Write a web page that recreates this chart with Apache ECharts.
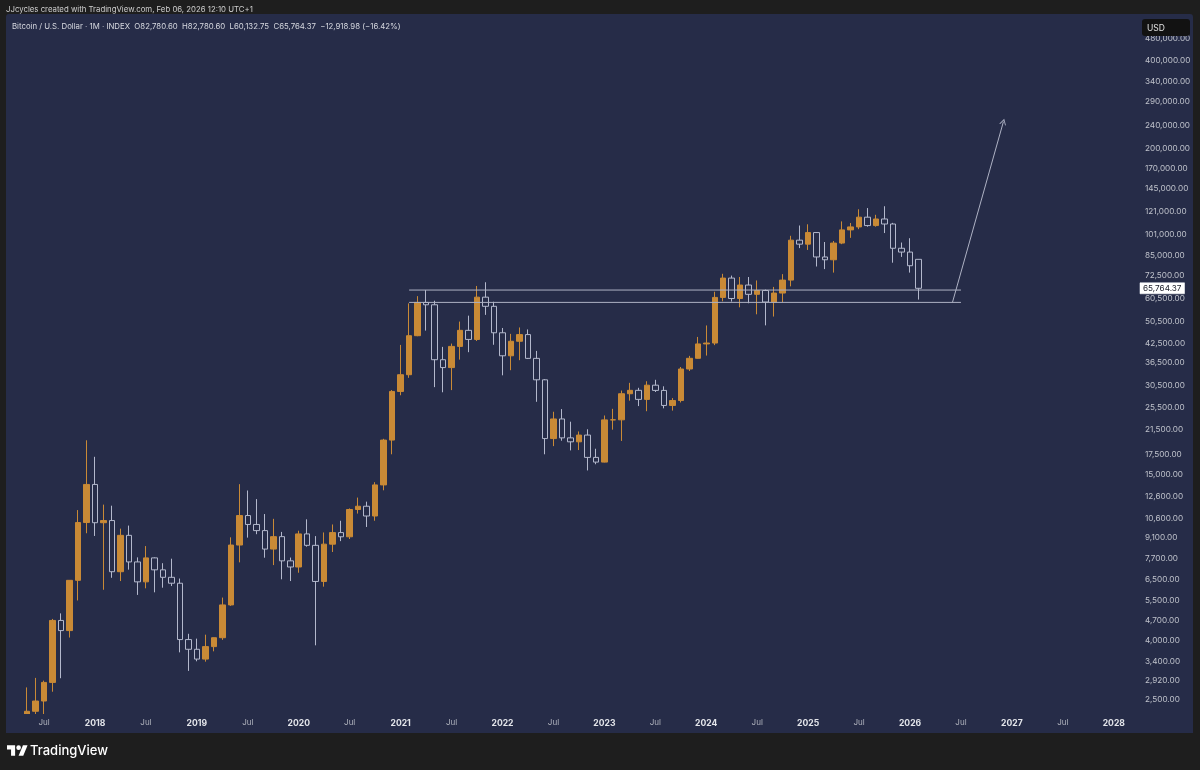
<!DOCTYPE html>
<html><head><meta charset="utf-8">
<script src="https://cdn.jsdelivr.net/npm/echarts@6/dist/echarts.min.js"></script>
<style>html,body{margin:0;padding:0;background:#1e1e1e}#c{width:1200px;height:770px}</style>
</head><body><div id="c"></div><script>
// ---- DATA ----
const firstMonth = '2017-03';     // first category on the axis
const lastMonth  = '2028-03';     // last category on the axis
const firstCandle = '2017-05';    // first month with a candle
const opens = [
  1348, 2286, 2480, 2875, 4703, 4339, 6468, 10234,
  13850, 10221, 10397, 6926, 9245, 7485, 6390, 7730, 7030, 6625, 6320, 4040,
  3740, 3460, 3820, 4100, 5320, 8560, 10820, 10080, 9600, 8290, 9150, 7550,
  7190, 9350, 8540, 6410, 8620, 9450, 9140, 11350, 11650, 10780, 13800, 19700,
  28990, 33110, 45140, 58790, 57700, 37300, 35040, 41460, 47100, 43820, 61300, 57000,
  46200, 38480, 43190, 45540, 37700, 31800, 19940, 23300, 20050, 19430, 20500, 17170,
  16540, 23130, 23140, 28470, 29250, 27220, 30470, 29230, 25940, 26970, 34650, 37720,
  42280, 42580, 61180, 71330, 60640, 67500, 62700, 64630, 58970, 63330, 70200, 96400,
  93400, 102400, 84350, 82500, 94200, 104600, 107100, 115700, 108250, 114050, 109600, 90400,
  87700, 82780.60
];
const highs = [
  2763, 2980, 2916, 4760, 4975, 6470, 11300, 19666,
  17250, 11800, 11700, 9750, 9990, 7760, 8490, 7760, 7410, 7680, 6560, 4230,
  4070, 4200, 4110, 5640, 9100, 13880, 13200, 12330, 10950, 10540, 9500, 7750,
  9590, 10500, 9190, 9460, 10080, 10380, 11450, 12480, 12080, 14100, 19900, 29300,
  41950, 58350, 61800, 64860, 59600, 41300, 42400, 50500, 52920, 67000, 69000, 59100,
  47990, 45800, 48190, 47440, 40000, 31980, 24670, 25200, 22800, 21100, 21470, 18390,
  23950, 25250, 29200, 31040, 29840, 31440, 31800, 30200, 27500, 35200, 38450, 44700,
  48970, 64000, 73800, 72750, 71950, 71950, 70000, 65100, 66500, 73600, 99800, 108300,
  109350, 102750, 95000, 95750, 111900, 110500, 123200, 124400, 117900, 126200, 110600, 94600,
  97900, 82780.60
];
const lows = [
  1348, 2076, 1830, 2670, 2972, 4106, 5511, 9400,
  9200, 6000, 6600, 6430, 7040, 5760, 6070, 5880, 6100, 6180, 3650, 3150,
  3400, 3390, 3680, 4030, 5280, 7460, 9080, 9330, 7740, 7300, 6520, 6430,
  6870, 8450, 3860, 6150, 8100, 8830, 8980, 10990, 9880, 10380, 13220, 17600,
  28130, 32300, 44950, 47000, 30000, 28800, 29300, 37330, 39600, 43280, 53250, 42000,
  32950, 34320, 37160, 37500, 26700, 17600, 18780, 19600, 18150, 18200, 15480, 16260,
  16500, 21400, 19570, 26940, 25810, 24780, 28860, 25350, 24900, 26560, 34100, 37630,
  38550, 41880, 59300, 59200, 56550, 58400, 53500, 49000, 52550, 58900, 66800, 90500,
  89200, 78200, 76600, 74500, 93400, 98200, 105200, 107300, 107300, 102000, 80600, 84400,
  74500, 60132.75
];
const closes = [
  2286, 2480, 2875, 4703, 4339, 6468, 10234, 13850,
  10221, 10397, 6926, 9245, 7485, 6390, 7730, 7030, 6625, 6320, 4040, 3740,
  3460, 3820, 4100, 5320, 8560, 10820, 10080, 9600, 8290, 9150, 7550, 7190,
  9350, 8540, 6410, 8620, 9450, 9140, 11350, 11650, 10780, 13800, 19700, 28990,
  33110, 45140, 58790, 57700, 37300, 35040, 41460, 47100, 43820, 61300, 57000, 46200,
  38480, 43190, 45540, 37700, 31800, 19940, 23300, 20050, 19430, 20500, 17170, 16540,
  23130, 23140, 28470, 29250, 27220, 30470, 29230, 25940, 26970, 34650, 37720, 42280,
  42580, 61180, 71330, 60640, 67500, 62700, 64630, 58970, 63330, 70200, 96400, 93400,
  102400, 84350, 82500, 94200, 104600, 107100, 115700, 108250, 114050, 109600, 90400, 87700,
  78683.35, 65764.37
];
const yTickValues = [480000, 400000, 340000, 290000, 240000, 200000, 170000, 145000, 121000, 101000,
  85000, 72500, 60500, 50500, 42500, 36500, 30500, 25500, 21500, 17500, 15000, 12600, 10600,
  9100, 7700, 6500, 5500, 4700, 4000, 3400, 2920, 2500];
const yMin = 2237, yMax = 581000;
// drawn levels: [startMonth, endMonth, price]
const levelLines = [['2021-02', '2026-07', 64860], ['2021-02', '2026-07', 58800]];
// drawn arrow: [month, price] -> [month, price]
const arrowFrom = ['2026-06', 58800];
const arrowTo = ['2026-12', 247000];
const titleText = 'Bitcoin / U.S. Dollar · 1M · INDEX  O82,780.60  H82,780.60  L60,132.75  C65,764.37  −12,918.98 (−16.42%)';
const headerText = 'JJcycles created with TradingView.com, Feb 06, 2026 12:10 UTC+1';

// ---- BUILD ----
function monthSeq(a, b) {
  const out = []; let y = +a.slice(0, 4), m = +a.slice(5, 7);
  while (true) {
    const s = y + '-' + String(m).padStart(2, '0'); out.push(s);
    if (s === b) break; m++; if (m > 12) { m = 1; y++; }
  }
  return out;
}
const categories = monthSeq(firstMonth, lastMonth);
const startIdx = categories.indexOf(firstCandle);
const candleData = categories.map((c, i) => {
  const k = i - startIdx;
  if (k < 0 || k >= opens.length) return '-';
  return [opens[k], closes[k], lows[k], highs[k]];
});
const lastClose = closes[closes.length - 1];
const fmt = v => Number(v).toLocaleString('en-US', { minimumFractionDigits: 2, maximumFractionDigits: 2 });

const NAVY = '#262c48', ORANGE = '#c98a36', HOLLOW = '#b3b8cc', LINEC = '#aeb2c4', DARK = '#1e1e1e';
const FONT = 'Inter, Roboto, sans-serif';
const GRID = { left: 5.85, right: 65, top: 14, bottom: 56 };

const chart = echarts.init(document.getElementById('c'), null, { renderer: 'canvas' });
const levelSeries = levelLines.map((l, i) => ({
  type: 'line', silent: true, symbol: 'none', z: 5,
  data: [[l[0], l[2]], [l[1], l[2]]],
  lineStyle: { color: LINEC, width: 1 },
  markLine: i === 1 ? {
    silent: true, animation: false, symbolSize: [7, 6],
    symbol: ['none', 'path://M0,10 L5,0 L10,10 L8.6,10 L5,2.8 L1.4,10 Z'],
    label: { show: false },
    lineStyle: { color: LINEC, width: 1, type: 'solid' },
    data: [[{ coord: arrowFrom }, { coord: arrowTo }]]
  } : undefined
}));

// TradingView logo polygons (in logo units), scaled into place
const LS = 0.58, LX = 7, LY = 743;
const lp = pts => pts.map(p => [LX + p[0] * LS, LY + p[1] * LS]);
const plotBottom = 770 - GRID.bottom;

chart.setOption({
  animation: false,
  backgroundColor: DARK,
  textStyle: { fontFamily: FONT },
  grid: Object.assign({ containLabel: false }, GRID),
  xAxis: {
    type: 'category', data: categories, boundaryGap: true, z: 20,
    axisLine: { show: false }, axisTick: { show: false }, splitLine: { show: false },
    axisLabel: {
      interval: (i, v) => v.endsWith('-01') || v.endsWith('-07'),
      margin: 5,
      formatter: v => v.endsWith('-01') ? '{y|' + v.slice(0, 4) + '}' : '{m|Jul}',
      rich: {
        y: { color: '#e3e5ea', fontWeight: 'bold', fontSize: 8.6, fontFamily: FONT },
        m: { color: '#b0b3bd', fontSize: 8, fontFamily: FONT }
      }
    }
  },
  yAxis: {
    type: 'log', position: 'right', min: yMin, max: yMax, logBase: 10, z: 20,
    axisLine: { show: false }, axisTick: { show: false }, splitLine: { show: false },
    axisLabel: {
      customValues: yTickValues, margin: 10, color: '#bfc2cb', fontSize: 8.2, fontFamily: FONT,
      formatter: v => fmt(v)
    }
  },
  series: [{
    type: 'candlestick', data: candleData, barWidth: 6, z: 3, clip: true,
    itemStyle: { color: ORANGE, color0: NAVY, borderColor: ORANGE, borderColor0: HOLLOW, borderWidth: 1 },
    markLine: {
      silent: true, animation: false, symbol: 'none',
      lineStyle: { color: 'rgba(0,0,0,0)', width: 0 },
      label: {
        position: 'end', distance: 5, formatter: p => fmt(p.value),
        backgroundColor: '#ffffff', color: '#1a1d29', fontSize: 8.2, fontFamily: FONT,
        padding: [2, 3, 1, 3], borderColor: '#9aa0b0', borderWidth: 0.5
      },
      data: [{ yAxis: lastClose }]
    }
  }].concat(levelSeries),
  graphic: [
    { type: 'rect', z: -10, silent: true, shape: { x: 6, y: 14, width: 1187, height: 719, r: 3 }, style: { fill: NAVY } },
    // covers that crop candles running below the plot area
    { type: 'rect', z: 8, silent: true, shape: { x: 6, y: plotBottom, width: 1187, height: 733 - plotBottom }, style: { fill: NAVY } },
    { type: 'rect', z: 8, silent: true, shape: { x: 0, y: 733, width: 1200, height: 37 }, style: { fill: DARK } },
    { type: 'text', z: 100, x: 6, y: 10, style: { text: headerText, fill: '#cfcfcf', font: '7.8px ' + FONT, verticalAlign: 'middle' } },
    { type: 'text', z: 100, x: 12, y: 27, style: { text: titleText, fill: '#d6d8df', font: '7.8px ' + FONT, verticalAlign: 'middle' } },
    { type: 'rect', z: 100, shape: { x: 1142, y: 19, width: 48, height: 17, r: 3 }, style: { fill: '#121212' } },
    { type: 'text', z: 101, x: 1147, y: 28, style: { text: 'USD', fill: '#e0e0e0', font: '8.5px ' + FONT, verticalAlign: 'middle' } },
    { type: 'polygon', z: 100, shape: { points: lp([[14, 22], [7, 22], [7, 11], [0, 11], [0, 4], [14, 4]]) }, style: { fill: '#ffffff' } },
    { type: 'polygon', z: 100, shape: { points: lp([[28, 22], [20, 22], [27.5, 4], [35.5, 4]]) }, style: { fill: '#ffffff' } },
    { type: 'circle', z: 100, shape: { cx: LX + 20 * LS, cy: LY + 8 * LS, r: 4 * LS }, style: { fill: '#ffffff' } },
    { type: 'text', z: 100, x: 30, y: 751, style: { text: 'TradingView', fill: '#ffffff', font: '500 13px ' + FONT, verticalAlign: 'middle' } }
  ]
});
</script></body></html>
